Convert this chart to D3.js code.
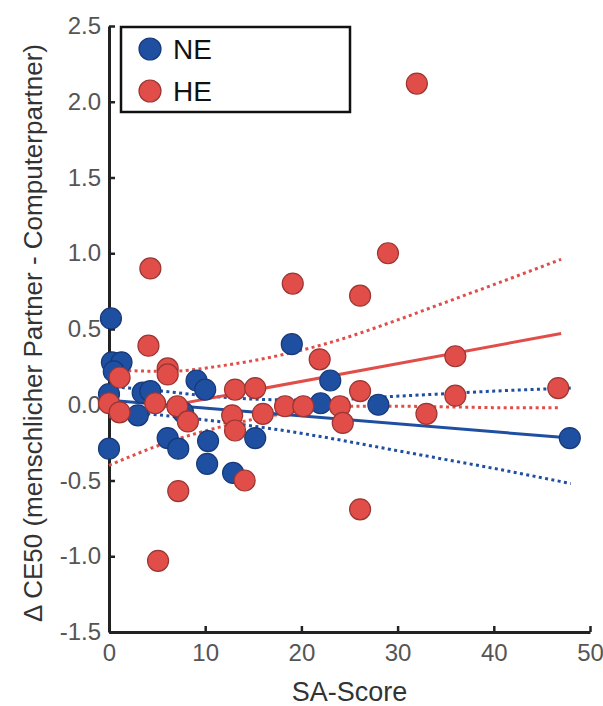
<!DOCTYPE html>
<html>
<head>
<meta charset="utf-8">
<script src="https://cdn.jsdelivr.net/npm/d3@7"></script>
<style>
  body { margin: 0; background: #fff; }
  text { font-family: "Liberation Sans", Arial, sans-serif; }
</style>
</head>
<body>
<svg class="svg-main" width="603" height="706"></svg>
<script>
// NE group (blue)
const neX = [0.2, 0.3, 1.3, 0.5, 0.0, 3.5, 4.3, 3.0, 7.7, 6.1, 7.2, 0.0, 9.1, 10.0, 10.3, 10.2, 12.9, 15.2, 19.0, 23.0, 22.0, 28.0, 47.9];
const neY = [0.57, 0.28, 0.28, 0.22, 0.07, 0.08, 0.09, -0.07, -0.05, -0.22, -0.29, -0.29, 0.16, 0.10, -0.24, -0.39, -0.45, -0.22, 0.40, 0.16, 0.01, 0.00, -0.22];

// HE group (red)
const heX = [0.0, 1.1, 1.1, 4.1, 4.3, 4.8, 6.1, 6.1, 7.1, 8.2, 7.2, 5.1, 13.1, 15.2, 12.8, 13.1, 14.1, 16.0, 18.3, 20.2, 19.1, 21.9, 24.0, 24.3, 26.1, 26.1, 26.1, 29.0, 32.0, 33.0, 36.0, 36.0, 46.7];
const heY = [0.01, -0.05, 0.18, 0.39, 0.90, 0.01, 0.24, 0.20, -0.01, -0.11, -0.57, -1.03, 0.10, 0.11, -0.07, -0.17, -0.50, -0.06, -0.01, -0.01, 0.80, 0.30, -0.01, -0.12, 0.72, 0.09, -0.69, 1.00, 2.12, -0.06, 0.32, 0.06, 0.11];

// regression lines and confidence bands
const neFit = [[0, 0.03], [48, -0.22]];
const neUpper = [[0, 0.12], [4, 0.10], [10, 0.06], [16, 0.035], [22, 0.03], [28, 0.05], [34, 0.07], [40, 0.09], [48, 0.11]];
const neLower = [[0, -0.04], [4, -0.06], [10, -0.10], [16, -0.15], [22, -0.21], [28, -0.28], [34, -0.35], [40, -0.42], [48, -0.52]];
const heFit = [[0, -0.08], [47, 0.47]];
const heUpper = [[0, 0.23], [6, 0.22], [12, 0.26], [18, 0.33], [24, 0.43], [30, 0.56], [36, 0.70], [42, 0.84], [47, 0.96]];
const heLower = [[0, -0.40], [6, -0.25], [12, -0.14], [18, -0.06], [24, -0.01], [30, -0.01], [36, -0.015], [42, -0.02], [47, -0.02]];

const xTicks = [0, 10, 20, 30, 40, 50];
const yTicks = [-1.5, -1.0, -0.5, 0.0, 0.5, 1.0, 1.5, 2.0, 2.5];
const legendLabels = ["NE", "HE"];

const blue = "#1f4fa0", blueEdge = "#16397a";
const red = "#e14e49", redEdge = "#9a3532";

const svg = d3.select(".svg-main");

const x = d3.scaleLinear().domain([0, 50]).range([109, 590]);
const y = d3.scaleLinear().domain([-1.5, 2.5]).range([632, 26]);

const line = d3.line().x(d => x(d[0])).y(d => y(d[1])).curve(d3.curveMonotoneX);

// axes
const yAxis = svg.append("g")
  .attr("transform", `translate(${x(0)},0)`)
  .call(d3.axisLeft(y).tickValues(yTicks).tickSize(-6).tickSizeOuter(0).tickPadding(8)
    .tickFormat(d => d.toFixed(1)));

const xAxis = svg.append("g")
  .attr("transform", `translate(0,${y(-1.5)})`)
  .call(d3.axisBottom(x).tickValues(xTicks).tickSize(-6).tickSizeOuter(0).tickPadding(12));

[yAxis, xAxis].forEach(g => {
  g.select(".domain").attr("stroke", "#222").attr("stroke-width", 3);
  g.selectAll(".tick line").attr("stroke", "#222").attr("stroke-width", 2.5);
  g.selectAll(".tick text").attr("fill", "#555").style("font-size", "24px");
});

// lines
const lines = svg.append("g").attr("fill", "none");
function drawLine(data, color, dotted) {
  lines.append("path")
    .datum(data)
    .attr("d", line)
    .attr("stroke", color)
    .attr("stroke-width", 3)
    .attr("stroke-dasharray", dotted ? "3,3.4" : null);
}
drawLine(neUpper, blue, true);
drawLine(neLower, blue, true);
drawLine(heUpper, red, true);
drawLine(heLower, red, true);
drawLine(neFit, blue, false);
drawLine(heFit, red, false);

// points
function drawPoints(xs, ys, fill, edge) {
  svg.append("g").selectAll("circle")
    .data(xs.map((v, i) => [v, ys[i]]))
    .enter().append("circle")
      .attr("cx", d => x(d[0]))
      .attr("cy", d => y(d[1]))
      .attr("r", 10.5)
      .attr("fill", fill)
      .attr("stroke", edge)
      .attr("stroke-width", 1.2);
}
drawPoints(neX, neY, blue, blueEdge);
drawPoints(heX, heY, red, redEdge);

// axis titles
svg.append("text")
  .attr("x", x(25))
  .attr("y", 701)
  .attr("text-anchor", "middle")
  .attr("fill", "#333")
  .style("font-size", "27px")
  .text("SA-Score");

svg.append("text")
  .attr("transform", "translate(42,333) rotate(-90)")
  .attr("text-anchor", "middle")
  .attr("fill", "#333")
  .style("font-size", "26px")
  .text("Δ CE50 (menschlicher Partner - Computerpartner)");

// legend
const legend = svg.append("g");
legend.append("rect")
  .attr("x", 121).attr("y", 27)
  .attr("width", 229).attr("height", 85)
  .attr("fill", "#fff")
  .attr("stroke", "#111")
  .attr("stroke-width", 2.5);

const items = legend.selectAll(".item")
  .data(legendLabels)
  .enter().append("g")
    .attr("transform", (d, i) => `translate(150,${49 + i * 42})`);
items.append("circle")
  .attr("r", 11)
  .attr("fill", (d, i) => i ? red : blue)
  .attr("stroke", (d, i) => i ? redEdge : blueEdge)
  .attr("stroke-width", 1.2);
items.append("text")
  .attr("x", 23)
  .attr("y", 10)
  .attr("fill", "#111")
  .style("font-size", "28px")
  .text(d => d);
</script>
</body>
</html>
